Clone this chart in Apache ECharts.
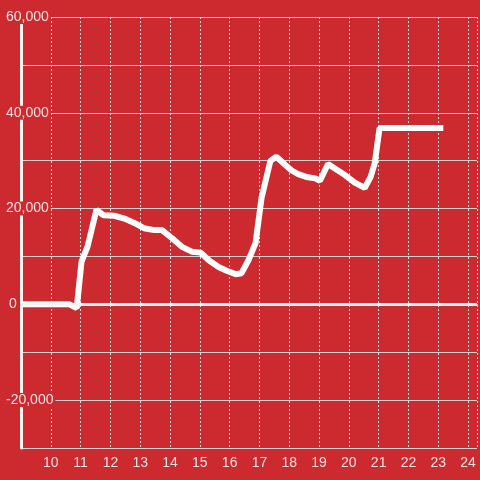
<!DOCTYPE html>
<html>
<head>
<meta charset="utf-8">
<script src="https://cdn.jsdelivr.net/npm/echarts@6/dist/echarts.min.js"></script>
<style>
  html, body { margin: 0; padding: 0; background: #cc2a2e; }
  #main { width: 480px; height: 480px; }
</style>
</head>
<body>
<div id="main"></div>
<script>
// hours and values
var hours = [9.0, 10.63, 10.87, 11.03, 11.23, 11.53, 11.77, 12.13, 12.47, 12.8,
  13.13, 13.47, 13.73, 14.07, 14.4, 14.73, 15.03, 15.3, 15.63, 15.9,
  16.2, 16.4, 16.63, 16.87, 17.07, 17.37, 17.57, 17.87, 18.07, 18.3,
  18.57, 18.87, 19.03, 19.3, 19.57, 19.87, 20.2, 20.53, 20.73, 20.87,
  21.03, 23.17];
var values = [0, 0, -800, 8900, 12000, 19700, 18600, 18500, 17900, 17000,
  15900, 15500, 15500, 13800, 12000, 11000, 10800, 9200, 7800, 7000,
  6300, 6500, 9200, 12800, 22200, 30000, 30800, 29100, 28000, 27200,
  26600, 26300, 25800, 29300, 28200, 27000, 25400, 24300, 26600, 29500,
  36800, 36800];
var yLabels = [-20000, 0, 20000, 40000, 60000];

var bg = '#cc2a2e';
var txt = '#f3e3e3';

var points = hours.map(function (h, i) { return [h, values[i]]; });

var chart = echarts.init(document.getElementById('main'));
var option = {
  backgroundColor: bg,
  animation: false,
  grid: { left: 21, right: 0, top: 17, bottom: 32 },
  xAxis: {
    type: 'value',
    min: 9,
    max: 24.3,
    interval: 1,
    axisLine: { lineStyle: { color: '#d8d8d8', width: 2 } },
    axisTick: { show: false },
    axisLabel: {
      color: txt,
      fontFamily: 'Liberation Sans',
      fontSize: 14,
      margin: 8,
      formatter: function (v) {
        return (v > 9 && Math.abs(v - Math.round(v)) < 1e-6) ? String(v) : '';
      }
    },
    splitLine: { show: true, lineStyle: { color: '#e2e2e2', width: 1, type: [2, 2] } }
  },
  yAxis: {
    type: 'value',
    min: -30000,
    max: 60000,
    interval: 10000,
    axisLine: { show: true, lineStyle: { color: '#f4f4f4', width: 3 } },
    axisTick: { show: false },
    axisLabel: {
      color: txt,
      fontFamily: 'Liberation Sans',
      fontSize: 14,
      align: 'left',
      margin: 15,
      backgroundColor: bg,
      padding: [0, 2, 0, 0],
      formatter: function (v) {
        if (yLabels.indexOf(v) < 0) return '';
        if (v === 0) return '{z|0}';
        return v.toLocaleString('en-US');
      },
      rich: {
        z: { color: txt, fontFamily: 'Liberation Sans', fontSize: 14, padding: [0, 0, 0, 3] }
      }
    },
    splitLine: { show: true, lineStyle: { color: '#d6d0d0', width: 1 } }
  },
  series: [{
    type: 'line',
    data: points,
    symbol: 'none',
    lineStyle: { color: '#ffffff', width: 6 },
    markLine: {
      silent: true,
      symbol: 'none',
      label: { show: false },
      lineStyle: { color: '#f4f4f4', width: 3, type: 'solid' },
      data: [{ yAxis: 0 }]
    }
  }]
};
chart.setOption(option);
</script>
</body>
</html>
